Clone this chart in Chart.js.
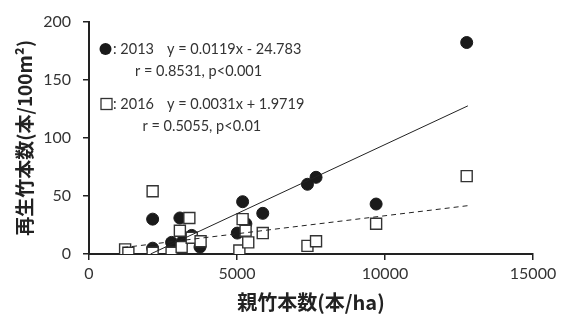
<!DOCTYPE html>
<html>
<head>
<meta charset="utf-8">
<script src="https://cdn.jsdelivr.net/npm/chart.js@4/dist/chart.umd.min.js"></script>
<style>
  html, body { margin: 0; padding: 0; background: #fff; }
  #wrap { width: 564px; height: 320px; position: relative; }
</style>
</head>
<body>
<div id="wrap"><canvas id="c" width="564" height="320"></canvas></div>
<script>
// ---- data ----
const x2013 = [2150, 2150, 2790, 3070, 3190, 3470, 3750, 5010, 5190, 5300, 5870, 7380, 7670, 9700, 12760];
const y2013 = [30, 5, 10, 31, 12, 16, 6, 18, 45, 26, 35, 60, 66, 43, 182];

const x2016 = [1220, 1330, 2150, 2150, 2790, 3130, 3070, 3390, 3470, 3770, 5080, 5190, 5290, 5380, 5870, 7380, 7670, 9700, 12760];
const y2016 = [4, 1, 1, 54, 1, 6, 20, 31, 14, 11, 3, 30, 20, 10, 18, 7, 11, 26, 67];

// regression line end points
const trend2013X = [2080, 12800];
const trend2013Y = [0, 127.5];
const trend2016X = [1150, 12800];
const trend2016Y = [5.5, 41.6];

const xTicks = [0, 5000, 10000, 15000];
const yTicks = [0, 50, 100, 150, 200];

const xTitle = '親竹本数(本/ha)';
const yTitle = '再生竹本数(本/100m²)';

const annot2013 = [': 2013', 'y = 0.0119x - 24.783', 'r = 0.8531, p<0.001'];
const annot2016 = [': 2016', 'y = 0.0031x + 1.9719', 'r = 0.5055, p<0.01'];

const toPts = (xs, ys) => xs.map((x, i) => ({x: x, y: ys[i]}));

const annotPlugin = {
  id: 'annot',
  afterDatasetsDraw(chart) {
    const ctx = chart.ctx;
    ctx.save();
    ctx.font = '14.5px Lato';
    ctx.textBaseline = 'middle';
    ctx.textAlign = 'left';
    // marker for 2013
    ctx.beginPath();
    ctx.arc(105.5, 49, 6, 0, Math.PI * 2);
    ctx.fillStyle = '#1a1a1a';
    ctx.fill();
    ctx.fillStyle = '#333';
    ctx.fillText(annot2013[0], 113, 49);
    ctx.fillText(annot2013[1], 167, 49);
    ctx.fillText(annot2013[2], 135, 71);
    // marker for 2016
    ctx.strokeStyle = '#333';
    ctx.lineWidth = 1.3;
    ctx.strokeRect(101, 98.5, 11, 11);
    ctx.fillText(annot2016[0], 113, 104);
    ctx.fillText(annot2016[1], 167, 104);
    ctx.fillText(annot2016[2], 142.5, 126);
    ctx.restore();
  }
};

new Chart(document.getElementById('c'), {
  type: 'scatter',
  data: {
    datasets: [
      {
        label: 'trend2013',
        data: toPts(trend2013X, trend2013Y),
        showLine: true,
        borderColor: '#222',
        borderWidth: 1,
        pointRadius: 0,
        fill: false
      },
      {
        label: 'trend2016',
        data: toPts(trend2016X, trend2016Y),
        showLine: true,
        borderColor: '#222',
        borderWidth: 1,
        borderDash: [5, 4],
        pointRadius: 0,
        fill: false
      },
      {
        label: '2016',
        data: toPts(x2016, y2016),
        pointStyle: 'rect',
        pointRadius: 7.8,
        backgroundColor: '#fff',
        borderColor: '#333',
        borderWidth: 1.4
      },
      {
        label: '2013',
        data: toPts(x2013, y2013),
        pointStyle: 'circle',
        pointRadius: 6,
        backgroundColor: '#1a1a1a',
        borderColor: '#1a1a1a',
        borderWidth: 1
      }
    ]
  },
  options: {
    responsive: false,
    animation: false,
    devicePixelRatio: 1,
    layout: { padding: { top: 16, right: 31, left: 0, bottom: 0 } },
    plugins: { legend: { display: false }, tooltip: { enabled: false } },
    scales: {
      x: {
        type: 'linear',
        min: 0, max: 15000,
        afterBuildTicks(s) { s.ticks = xTicks.map(v => ({value: v})); },
        afterFit(s) { s.height = 66; },
        ticks: { color: '#333', font: { family: 'Lato', size: 16 }, padding: 4, maxRotation: 0,
                 callback: v => String(v) },
        grid: { drawOnChartArea: false, drawTicks: true, tickLength: 6, color: '#222', lineWidth: 1.5 },
        border: { display: true, color: '#222', width: 2 },
        title: {
          display: true, text: xTitle, color: '#222',
          font: { family: 'Noto Sans CJK JP', size: 20, weight: 'bold' },
          padding: { top: 0, bottom: 6 }
        }
      },
      y: {
        type: 'linear',
        min: 0, max: 200,
        afterBuildTicks(s) { s.ticks = yTicks.map(v => ({value: v})); },
        afterFit(s) { s.width = 89; },
        ticks: { color: '#333', font: { family: 'Lato', size: 16 }, padding: 12,
                 callback: v => String(v) },
        grid: { drawOnChartArea: false, drawTicks: true, tickLength: 6, color: '#222', lineWidth: 1.5 },
        border: { display: true, color: '#222', width: 2 },
        title: {
          display: true, text: yTitle, color: '#222',
          font: { family: 'Noto Sans CJK JP', size: 19, weight: 'bold' },
          padding: { top: 13, bottom: 0 }
        }
      }
    }
  },
  plugins: [annotPlugin]
});
</script>
</body>
</html>
